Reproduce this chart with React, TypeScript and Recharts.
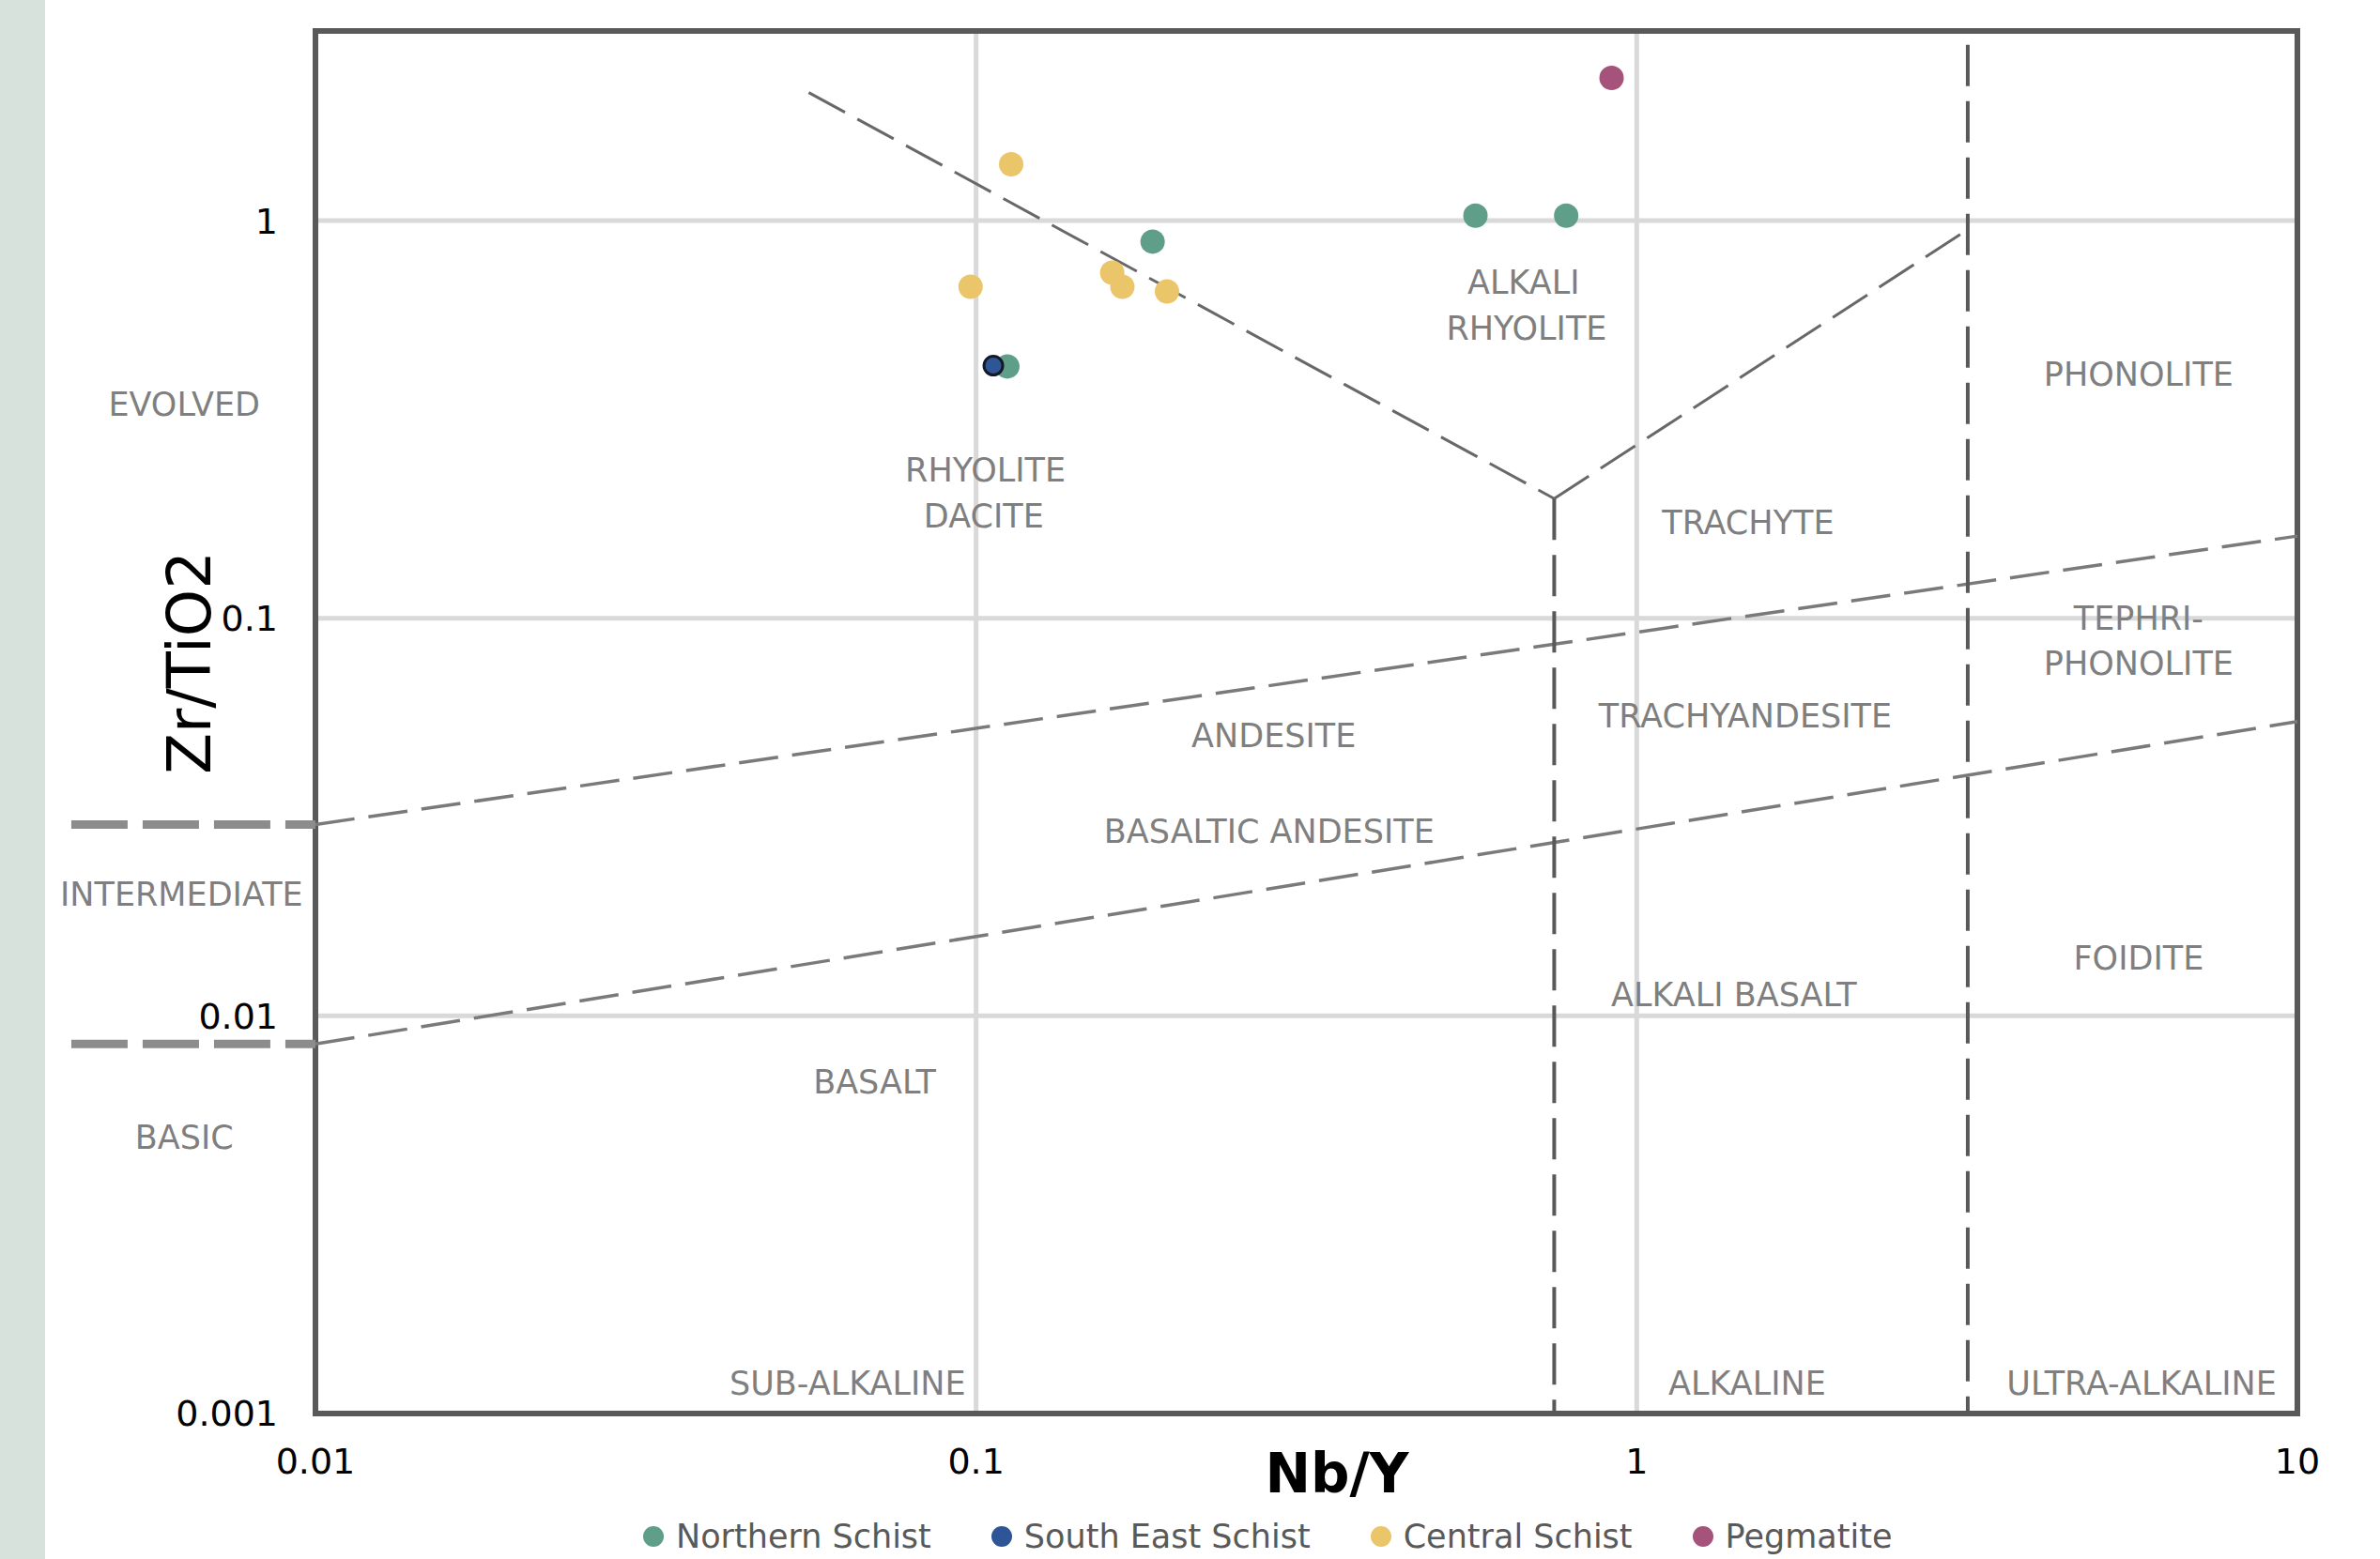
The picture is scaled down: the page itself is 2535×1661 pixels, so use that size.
import {
  CartesianGrid,
  ReferenceArea,
  ReferenceDot,
  ReferenceLine,
  Scatter,
  ScatterChart,
  XAxis,
  YAxis,
} from "recharts";

const FONT = "'DejaVu Sans', Verdana, sans-serif";

const X_TICKS = [0.01, 0.1, 1, 10];
const Y_TICKS = [0.001, 0.01, 0.1, 1];

const northernSchist = [
  { x: 0.185, y: 0.886 },
  { x: 0.57, y: 1.03 },
  { x: 0.782, y: 1.03 },
  { x: 0.1115, y: 0.43 },
];
const southEastSchist = [{ x: 0.1062, y: 0.432 }];
const centralSchist = [
  { x: 0.113, y: 1.387 },
  { x: 0.0981, y: 0.682 },
  { x: 0.1607, y: 0.74 },
  { x: 0.1665, y: 0.682 },
  { x: 0.1945, y: 0.664 },
];
const pegmatite = [{ x: 0.916, y: 2.286 }];

// field boundaries (Nb/Y, Zr/TiO2)
const thinBoundaries = [
  { from: { x: 0.0558, y: 2.1 }, to: { x: 0.75, y: 0.2 }, kind: "v" },
  { from: { x: 0.75, y: 0.2 }, to: { x: 3.17, y: 0.95 }, kind: "v" },
  { from: { x: 0.01, y: 0.0303 }, to: { x: 10, y: 0.161 }, kind: "slope" },
  { from: { x: 0.01, y: 0.0085 }, to: { x: 10, y: 0.055 }, kind: "slope" },
  { from: { x: 0.75, y: 0.2 }, to: { x: 0.75, y: 0.001 }, kind: "vert" },
  { from: { x: 3.17, y: 2.77 }, to: { x: 3.17, y: 0.001 }, kind: "vert" },
];
const classBoundaries = [
  { from: { x: 0.00427, y: 0.0303 }, to: { x: 0.01, y: 0.0303 } },
  { from: { x: 0.00427, y: 0.0085 }, to: { x: 0.01, y: 0.0085 } },
];

const fieldLabels = [
  { x: 0.00633, y: 0.346, text: "EVOLVED" },
  { x: 0.00627, y: 0.0203, text: "INTERMEDIATE" },
  { x: 0.00633, y: 0.00495, text: "BASIC" },
  { x: 0.1033, y: 0.2365, text: "RHYOLITE" },
  { x: 0.1027, y: 0.1813, text: "DACITE" },
  { x: 0.674, y: 0.7007, text: "ALKALI" },
  { x: 0.681, y: 0.537, text: "RHYOLITE" },
  { x: 5.75, y: 0.4115, text: "PHONOLITE" },
  { x: 1.474, y: 0.1745, text: "TRACHYTE" },
  { x: 5.75, y: 0.1003, text: "TEPHRI-" },
  { x: 5.75, y: 0.0769, text: "PHONOLITE" },
  { x: 1.46, y: 0.057, text: "TRACHYANDESITE" },
  { x: 0.2822, y: 0.0508, text: "ANDESITE" },
  { x: 0.2777, y: 0.0291, text: "BASALTIC ANDESITE" },
  { x: 5.75, y: 0.01396, text: "FOIDITE" },
  { x: 1.403, y: 0.0113, text: "ALKALI BASALT" },
  { x: 0.0702, y: 0.00682, text: "BASALT" },
  { x: 0.0639, y: 0.00119, text: "SUB-ALKALINE" },
  { x: 1.469, y: 0.00119, text: "ALKALINE" },
  { x: 5.81, y: 0.00119, text: "ULTRA-ALKALINE" },
];

const series = [
  { name: "Northern Schist", data: northernSchist, color: "#5f9e89", stroke: "none", r: 13 },
  { name: "South East Schist", data: southEastSchist, color: "#2e5595", stroke: "#111a26", r: 10 },
  { name: "Central Schist", data: centralSchist, color: "#ebc56a", stroke: "none", r: 13 },
  { name: "Pegmatite", data: pegmatite, color: "#a5537a", stroke: "none", r: 13 },
];

const lineStyle: Record<string, { stroke: string; width: number; dash: string }> = {
  v: { stroke: "#686868", width: 3, dash: "44 15" },
  slope: { stroke: "#7a7a7a", width: 3.5, dash: "42 15" },
  vert: { stroke: "#595959", width: 4, dash: "44 16" },
};

export default function App() {
  return (
    <div
      style={{
        position: "absolute",
        left: 0,
        top: 0,
        width: 2535,
        height: 1661,
        background: "#fff",
        overflow: "hidden",
        fontFamily: FONT,
      }}
    >
      <div
        style={{
          position: "absolute",
          left: 0,
          top: 0,
          width: 48,
          height: 1661,
          background: "#d8e2dc",
        }}
      />
      <ScatterChart
        width={2535}
        height={1661}
        margin={{ top: 33, right: 88, bottom: 95, left: 0 }}
        style={{ position: "absolute", left: 0, top: 0 }}
      >
        <CartesianGrid stroke="#d9d9d9" strokeWidth={5} />
        <XAxis
          type="number"
          dataKey="x"
          scale="log"
          domain={[0.01, 10]}
          ticks={X_TICKS}
          interval={0}
          allowDataOverflow
          height={60}
          axisLine={false}
          tickLine={false}
          tickSize={0}
          tickMargin={37}
          tick={{ fill: "#000", fontSize: 38, fontFamily: FONT }}
        />
        <YAxis
          type="number"
          dataKey="y"
          scale="log"
          domain={[0.001, 3]}
          ticks={Y_TICKS}
          interval={0}
          allowDataOverflow
          width={336}
          axisLine={false}
          tickLine={false}
          tickSize={0}
          tickMargin={40}
          tick={{ fill: "#000", fontSize: 38, fontFamily: FONT }}
        />
        {series.map((s) => (
          <Scatter
            key={s.name}
            name={s.name}
            data={s.data}
            fill={s.color}
            isAnimationActive={false}
            shape={(p: any) => (
              <circle
                cx={p.cx}
                cy={p.cy}
                r={s.r}
                fill={s.color}
                stroke={s.stroke}
                strokeWidth={s.stroke === "none" ? 0 : 3}
              />
            )}
          />
        ))}
        {thinBoundaries.map((b, i) => {
          const st = lineStyle[b.kind];
          return (
            <ReferenceLine
              key={`b${i}`}
              segment={[b.from, b.to]}
              stroke={st.stroke}
              strokeWidth={st.width}
              strokeDasharray={st.dash}
              ifOverflow="visible"
            />
          );
        })}
        {classBoundaries.map((b, i) => (
          <ReferenceLine
            key={`c${i}`}
            segment={[b.from, b.to]}
            stroke="#8c8c8c"
            strokeWidth={9}
            strokeDasharray="60 16"
            ifOverflow="visible"
          />
        ))}
        <ReferenceArea
          x1={0.01}
          x2={10}
          y1={0.001}
          y2={3}
          fill="none"
          fillOpacity={0}
          stroke="#595959"
          strokeWidth={6}
          ifOverflow="visible"
        />
        {fieldLabels.map((l, i) => (
          <ReferenceDot
            key={`l${i}`}
            x={l.x}
            y={l.y}
            r={0}
            fill="none"
            stroke="none"
            ifOverflow="visible"
            label={{
              value: l.text,
              position: "center",
              fill: "#7f7f7f",
              fontSize: 35,
              fontFamily: FONT,
            }}
          />
        ))}
      </ScatterChart>
      <svg
        width={2535}
        height={1661}
        style={{ position: "absolute", left: 0, top: 0, pointerEvents: "none" }}
      >
        <text
          x={0}
          y={0}
          transform="translate(224 706) rotate(-90)"
          textAnchor="middle"
          fontSize={64}
          fontFamily={FONT}
          fill="#000"
        >
          Zr/TiO2
        </text>
        <text
          x={1424}
          y={1590}
          textAnchor="middle"
          fontSize={58}
          fontWeight="bold"
          fontFamily={FONT}
          fill="#000"
        >
          Nb/Y
        </text>
      </svg>
      <div
        style={{
          position: "absolute",
          left: 685,
          top: 1617,
          height: 40,
          display: "flex",
          alignItems: "center",
          gap: 64,
          fontSize: 35,
          color: "#595959",
          whiteSpace: "nowrap",
        }}
      >
        {series.map((s) => (
          <div key={s.name} style={{ display: "flex", alignItems: "center", gap: 13 }}>
            <span
              style={{
                display: "inline-block",
                width: 22,
                height: 22,
                borderRadius: 11,
                background: s.color,
              }}
            />
            <span>{s.name}</span>
          </div>
        ))}
      </div>
    </div>
  );
}
